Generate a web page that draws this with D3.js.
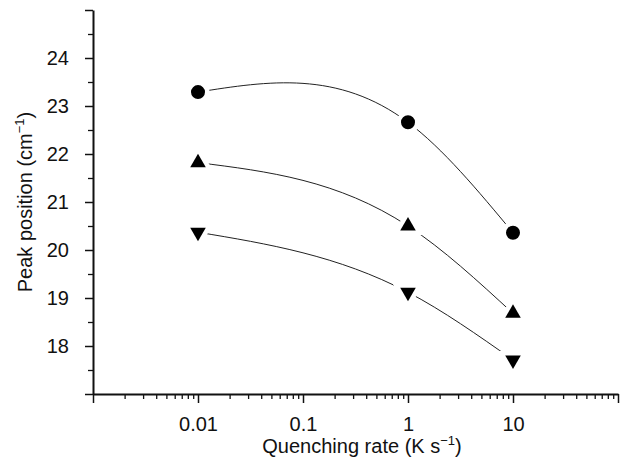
<!DOCTYPE html>
<html>
<head>
<meta charset="utf-8">
<script src="https://cdn.jsdelivr.net/npm/d3@7"></script>
<style>
  body { margin: 0; background: #fff; }
  text { font-family: "Liberation Sans", Arial, sans-serif; fill: #111; }
</style>
</head>
<body>
<svg id="chart" width="636" height="468"></svg>
<script>
// quenching rates (K/s) and peak positions (cm^-1)
var rates = [0.01, 1, 10];
var circleVals = [23.29, 22.66, 20.36];
var upVals = [21.82, 20.5, 18.68];
var downVals = [20.37, 19.12, 17.71];

var xMajor = [0.001, 0.01, 0.1, 1, 10, 100];
var xLabels = [0.01, 0.1, 1, 10];
var yMajor = [17, 18, 19, 20, 21, 22, 23, 24, 25];
var yLabels = [18, 19, 20, 21, 22, 23, 24];

var svg = d3.select("#chart"),
  plotLeft = 93, plotRight = 618, plotTop = 10, plotBottom = 394;

var x = d3.scaleLog().domain([0.001, 100]).range([plotLeft, plotRight]);
var y = d3.scaleLinear().domain([17, 25]).range([plotBottom, plotTop]);

// natural cubic spline y(x) drawn as bezier segments (a d3 curve factory)
function curveSplineX(context) {
  var pts = [];
  return {
    areaStart: function() {}, areaEnd: function() {},
    lineStart: function() { pts = []; },
    point: function(px, py) { pts.push([+px, +py]); },
    lineEnd: function() {
      var n = pts.length;
      if (!n) return;
      context.moveTo(pts[0][0], pts[0][1]);
      if (n < 3) { if (n === 2) context.lineTo(pts[1][0], pts[1][1]); return; }
      var h = [], d = [], i;
      for (i = 0; i < n - 1; i++) {
        h[i] = pts[i + 1][0] - pts[i][0];
        d[i] = (pts[i + 1][1] - pts[i][1]) / h[i];
      }
      // tridiagonal solve for second derivatives, natural ends
      var M = new Array(n).fill(0), a = [], b = [], c = [], r = [];
      for (i = 1; i < n - 1; i++) {
        a[i] = h[i - 1]; b[i] = 2 * (h[i - 1] + h[i]); c[i] = h[i];
        r[i] = 6 * (d[i] - d[i - 1]);
      }
      for (i = 2; i < n - 1; i++) {
        var m = a[i] / b[i - 1];
        b[i] -= m * c[i - 1]; r[i] -= m * r[i - 1];
      }
      for (i = n - 2; i >= 1; i--) {
        M[i] = (r[i] - (i < n - 2 ? c[i] * M[i + 1] : 0)) / b[i];
      }
      for (i = 0; i < n - 1; i++) {
        var s0 = d[i] - h[i] * (2 * M[i] + M[i + 1]) / 6,
          s1 = d[i] + h[i] * (M[i] + 2 * M[i + 1]) / 6;
        context.bezierCurveTo(
          pts[i][0] + h[i] / 3, pts[i][1] + s0 * h[i] / 3,
          pts[i + 1][0] - h[i] / 3, pts[i + 1][1] - s1 * h[i] / 3,
          pts[i + 1][0], pts[i + 1][1]);
      }
    }
  };
}

// minor ticks
var xMinor = [];
[0.001, 0.01, 0.1, 1, 10].forEach(function(d) {
  for (var k = 2; k <= 9; k++) xMinor.push(d * k);
});
var yMinor = d3.range(17.5, 25, 1);

var fmt = function(d) {
  return xLabels.indexOf(d) >= 0 ? (d < 1 ? d.toString() : d3.format("d")(d)) : "";
};

svg.append("g").attr("transform", "translate(0," + plotBottom + ")")
  .call(d3.axisBottom(x).tickValues(xMinor).tickSize(5).tickFormat("").tickSizeOuter(0))
  .call(function(g) { g.select(".domain").remove(); })
  .selectAll("line").attr("stroke", "#111").attr("stroke-width", 1.3);

var xAxis = svg.append("g").attr("transform", "translate(0," + plotBottom + ")")
  .call(d3.axisBottom(x).tickValues(xMajor).tickSize(9).tickPadding(14).tickFormat(fmt).tickSizeOuter(0));

svg.append("g").attr("transform", "translate(" + plotLeft + ",0)")
  .call(d3.axisLeft(y).tickValues(yMinor).tickSize(5).tickFormat("").tickSizeOuter(0))
  .call(function(g) { g.select(".domain").remove(); })
  .selectAll("line").attr("stroke", "#111").attr("stroke-width", 1.3);

var yAxis = svg.append("g").attr("transform", "translate(" + plotLeft + ",0)")
  .call(d3.axisLeft(y).tickValues(yMajor).tickSize(8).tickPadding(16)
    .tickFormat(function(d) { return yLabels.indexOf(d) >= 0 ? d : ""; }).tickSizeOuter(0));

[xAxis, yAxis].forEach(function(g) {
  g.select(".domain").attr("stroke", "#111").attr("stroke-width", 2);
  g.selectAll(".tick line").attr("stroke", "#111").attr("stroke-width", 1.5);
  g.selectAll(".tick text").attr("font-size", 20)
    .attr("font-family", "'Liberation Sans', Arial, sans-serif").attr("fill", "#111");
});

// axis titles
var xt = svg.append("text").attr("x", 362).attr("y", 453)
  .attr("text-anchor", "middle").attr("font-size", 20);
xt.append("tspan").text("Quenching rate (K s");
xt.append("tspan").attr("font-size", 13).attr("dy", -8).text("\u22121");
xt.append("tspan").attr("dy", 8).text(")");

var yt = svg.append("text").attr("transform", "translate(32,202) rotate(-90)")
  .attr("text-anchor", "middle").attr("font-size", 20);
yt.append("tspan").text("Peak position (cm");
yt.append("tspan").attr("font-size", 13).attr("dy", -8).text("\u22121");
yt.append("tspan").attr("dy", 8).text(")");

// curves
var series = [
  { vals: circleVals, shape: d3.symbolCircle, size: 154, rot: 0 },
  { vals: upVals, shape: d3.symbolTriangle, size: 105, rot: 0 },
  { vals: downVals, shape: d3.symbolTriangle, size: 105, rot: 180 }
];

var line = d3.line()
  .x(function(d) { return x(d[0]); })
  .y(function(d) { return y(d[1]); })
  .curve(curveSplineX);

series.forEach(function(s) {
  var pts = rates.map(function(r, i) { return [r, s.vals[i]]; });
  svg.append("path").datum(pts).attr("d", line)
    .attr("fill", "none").attr("stroke", "#222").attr("stroke-width", 1);
});

series.forEach(function(s) {
  var pts = rates.map(function(r, i) { return [r, s.vals[i]]; });
  svg.append("g").selectAll("path").data(pts).enter().append("path")
    .attr("d", d3.symbol().type(s.shape).size(s.size))
    .attr("transform", function(d) {
      return "translate(" + x(d[0]) + "," + y(d[1]) + ") rotate(" + s.rot + ")";
    })
    .attr("fill", "#000")
    .attr("stroke", "#fff")
    .attr("stroke-width", 9)
    .attr("paint-order", "stroke");
});
</script>
</body>
</html>
